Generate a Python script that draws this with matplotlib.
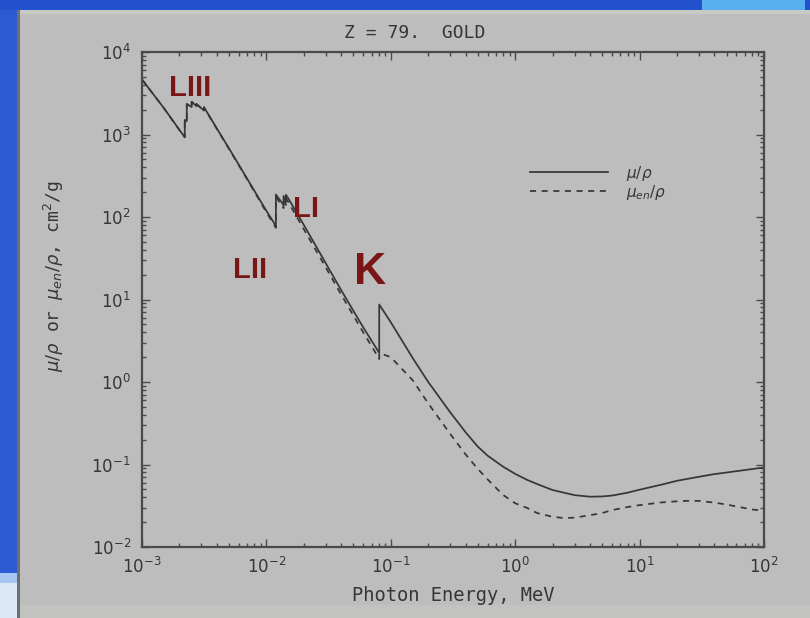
import matplotlib
matplotlib.use('Agg')
import matplotlib.pyplot as plt
from matplotlib.patches import Rectangle
from matplotlib.ticker import (FixedLocator, LogLocator, LogFormatterMathtext,
                               NullFormatter)

# ---------------- data ----------------
mu_energy = [1.0e-3, 1.5e-3, 2.0e-3, 2.206e-3, 2.206e-3, 2.291e-3, 2.291e-3,
             2.507e-3, 2.507e-3, 2.743e-3, 2.743e-3, 3.148e-3, 3.148e-3,
             4.0e-3, 5.0e-3, 6.0e-3, 8.0e-3, 1.0e-2, 1.1919e-2, 1.1919e-2,
             1.3734e-2, 1.3734e-2, 1.4353e-2, 1.4353e-2, 1.5e-2, 2.0e-2,
             3.0e-2, 4.0e-2, 5.0e-2, 6.0e-2, 8.0e-2, 8.0725e-2, 8.0725e-2,
             0.1, 0.15, 0.2, 0.3, 0.4, 0.5, 0.6, 0.8, 1.0, 1.25, 1.5, 2.0,
             3.0, 4.0, 5.0, 6.0, 8.0, 10.0, 15.0, 20.0, 30.0, 40.0, 50.0,
             60.0, 80.0, 100.0]
mu_rho = [4652, 2089, 1137, 930, 1500, 1450, 2350,
          2150, 2500, 2200, 2350, 1950, 2150,
          1180, 680, 430, 208, 119, 78, 187,
          140, 180, 150, 186, 168, 80,
          27.5, 12.9, 7.3, 4.6, 2.3, 2.25, 8.7,
          5.3, 1.95, 1.0, 0.43, 0.245, 0.165, 0.128, 0.094, 0.077, 0.065,
          0.058, 0.049, 0.0425, 0.0407, 0.041, 0.042, 0.0455, 0.0495,
          0.057, 0.0635, 0.071, 0.0765, 0.080, 0.083, 0.088, 0.092]

men_energy = [1.0e-3, 1.5e-3, 2.0e-3, 2.206e-3, 2.206e-3, 2.291e-3, 2.291e-3,
              2.507e-3, 2.507e-3, 2.743e-3, 2.743e-3, 3.148e-3, 3.148e-3,
              4.0e-3, 5.0e-3, 6.0e-3, 8.0e-3, 1.0e-2, 1.1919e-2, 1.1919e-2,
              1.3734e-2, 1.3734e-2, 1.4353e-2, 1.4353e-2, 1.5e-2, 2.0e-2,
              3.0e-2, 4.0e-2, 5.0e-2, 6.0e-2, 8.0e-2, 8.0725e-2, 8.0725e-2,
              0.1, 0.15, 0.2, 0.3, 0.4, 0.5, 0.6, 0.8, 1.0, 1.25, 1.5, 2.0,
              2.5, 3.0, 4.0, 5.0, 6.0, 8.0, 10.0, 15.0, 20.0, 25.0, 30.0,
              40.0, 50.0, 60.0, 80.0, 100.0]
men_rho = [4645, 2082, 1130, 924, 1490, 1440, 2330,
           2130, 2480, 2180, 2330, 1930, 2130,
           1165, 670, 424, 203, 114, 74, 175,
           128, 165, 140, 170, 152, 71,
           24.5, 11.4, 6.4, 4.0, 1.95, 1.90, 2.25,
           2.0, 1.05, 0.55, 0.235, 0.132, 0.0885, 0.066, 0.0427, 0.0339,
           0.0297, 0.0258, 0.0232, 0.0224, 0.0227, 0.0243, 0.0258, 0.0280,
           0.0305, 0.0322, 0.0347, 0.0358, 0.0363, 0.0362, 0.0345, 0.0327,
           0.0310, 0.0285, 0.0275]

x_ticks = [1e-3, 1e-2, 1e-1, 1e0, 1e1, 1e2]
y_ticks = [1e-2, 1e-1, 1e0, 1e1, 1e2, 1e3, 1e4]

edge_labels = ['LIII', 'LI', 'LII', 'K']
edge_label_E = [2.43e-3, 2.08e-2, 7.38e-3, 6.8e-2]
edge_label_mu = [3660, 125, 22.8, 21.5]
edge_label_size = [21, 21, 21, 32]

title = 'Z = 79.  GOLD'
xlabel = 'Photon Energy, MeV'
ylabel = r'$\mu/\rho$ or $\mu_{en}/\rho$, cm$^2$/g'
legend_labels = [r'$\mu/\rho$', r'$\mu_{en}/\rho$']

# ---------------- figure ----------------
W, H = 810, 618
panel = '#bdbdbd'
ink = '#363636'
fig = plt.figure(figsize=(W / 100, H / 100), dpi=100)
fig.patch.set_facecolor(panel)

def px_rect(x0, y0, x1, y1, color, z=0):
    fig.add_artist(Rectangle((x0 / W, 1 - y1 / H), (x1 - x0) / W, (y1 - y0) / H,
                             transform=fig.transFigure, facecolor=color,
                             edgecolor='none', zorder=z))

# slide decorations
px_rect(0, 0, 17, H, '#2b5ad3')
px_rect(0, 573, 17, H, '#a9c6f2')
px_rect(0, 583, 17, H, '#dde9f7')
px_rect(17, 10, 20, H, '#6f6f6f')
px_rect(0, 0, W, 10, '#2350cc')
px_rect(702, 0, 805, 10, '#58b1ee')
px_rect(20, 10, W, 14, '#c8cac4')
px_rect(20, 605, W, H, '#c2c3bf')

ax = fig.add_axes([142 / W, 1 - 547 / H, 622 / W, 495 / H])
ax.set_facecolor(panel)

ax.plot(mu_energy, mu_rho, color=ink, lw=1.25, label=legend_labels[0])
ax.plot(men_energy, men_rho, color=ink, lw=1.25, dashes=(3.5, 3.2),
        label=legend_labels[1])

ax.set_xscale('log')
ax.set_yscale('log')
ax.set_xlim(1e-3, 1e2)
ax.set_ylim(1e-2, 1e4)

ax.xaxis.set_major_locator(FixedLocator(x_ticks))
ax.yaxis.set_major_locator(FixedLocator(y_ticks))
for axis in (ax.xaxis, ax.yaxis):
    axis.set_minor_locator(LogLocator(base=10, subs=range(2, 10), numticks=50))
    axis.set_major_formatter(LogFormatterMathtext())
    axis.set_minor_formatter(NullFormatter())

ax.tick_params(which='both', direction='in', top=True, right=True,
               colors='#4a4a4a', labelcolor=ink)
ax.tick_params(which='major', length=6, width=1.0, labelsize=12)
ax.tick_params(which='minor', length=3, width=1.0)
ax.tick_params(axis='x', pad=7)
ax.tick_params(axis='y', pad=8)
for s in ax.spines.values():
    s.set_color('#4a4a4a')
    s.set_linewidth(1.6)

leg = ax.legend(frameon=False, loc='upper left', bbox_to_anchor=(0.611, 0.79),
                borderpad=0, handlelength=5.1, handletextpad=1.2,
                labelspacing=0.0, fontsize=11)
for t in leg.get_texts():
    t.set_color(ink)

for lab, e, m, fs in zip(edge_labels, edge_label_E, edge_label_mu, edge_label_size):
    ax.text(e, m, lab, ha='center', va='center', fontsize=fs,
            fontweight='bold', family='Liberation Sans', color='#7a1616')

fig.text(415 / W, 1 - 33 / H, title, ha='center', va='center',
         family='DejaVu Sans Mono', fontsize=13, color=ink)
fig.text(453 / W, 1 - 601 / H, xlabel, ha='center', va='baseline',
         family='DejaVu Sans Mono', fontsize=13.5, color=ink)
fig.text(54 / W, 1 - 276 / H, ylabel, ha='center', va='center', rotation=90,
         family='DejaVu Sans Mono', fontsize=13, color=ink)

fig.savefig('out.png', dpi=100, facecolor=fig.get_facecolor())
